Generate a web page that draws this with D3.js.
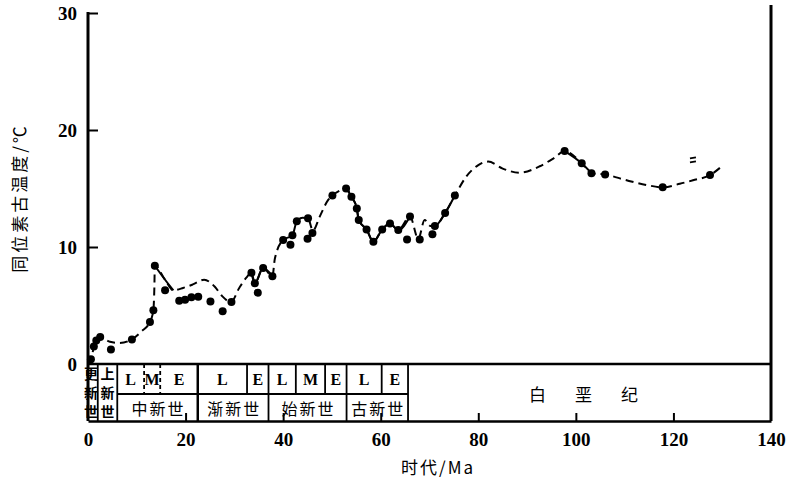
<!DOCTYPE html>
<html>
<head>
<meta charset="utf-8">
<script src="https://cdn.jsdelivr.net/npm/d3@7/dist/d3.min.js"></script>
<style>
  body { margin: 0; background: #fff; }
  svg { display: block; }
  .num { font-family: "Liberation Serif", "DejaVu Serif", serif; font-weight: bold; }
  .cjk { font-family: "Noto Sans CJK SC", sans-serif; }
</style>
</head>
<body>
<svg id="chart" width="791" height="480"></svg>
<script>
// smoothed temperature curve (age Ma, temperature C)
const curveAge = [0, 0.6, 1.3, 2.1, 3.0, 4.5, 6.5, 9.0, 11.0, 12.7, 13.4, 13.6, 13.7, 15.8, 17.5,
  19.5, 21.5, 23.8, 26.0, 27.5, 29.3, 31.0, 32.5, 33.5, 34.2, 35.9, 37.8, 38.3, 40.0, 41.9,
  42.8, 44.0, 45.1, 46.1, 47.5, 49.2, 50.1, 51.5, 52.9, 54.0, 55.1, 55.5, 57.1, 58.5, 60.3,
  61.9, 63.6, 66.0, 67.7, 69.0, 70.2, 71.1, 73.2, 75.2, 77.5, 80.0, 82.0, 85.0, 88.5, 92.6,
  95.5, 97.7, 101.2, 103.2, 106.0, 110.4, 114.5, 117.8, 121.3, 124.0, 127.5, 130.2];
const curveTemp = [0.0, 0.4, 1.6, 2.3, 2.2, 1.9, 1.8, 2.1, 2.8, 3.6, 4.6, 6.5, 8.4, 7.2, 6.3,
  6.5, 6.8, 7.2, 6.6, 5.8, 5.3, 6.5, 7.4, 7.8, 6.9, 8.2, 7.5, 9.0, 10.6, 11.0,
  12.2, 12.5, 12.45, 11.4, 12.6, 14.0, 14.4, 14.8, 15.0, 14.3, 13.3, 12.3, 11.5, 10.45, 11.5,
  12.0, 11.45, 12.6, 10.7, 12.3, 11.8, 11.8, 12.9, 14.4, 16.0, 17.0, 17.3, 16.7, 16.35, 16.9,
  17.6, 18.2, 17.15, 16.3, 16.2, 15.7, 15.3, 15.1, 15.4, 15.7, 16.15, 17.0];
// stretches of the curve drawn solid [from, to] Ma
const solidRuns = [[13.7, 17.5], [33.5, 37.8], [52.9, 66.0], [70.2, 75.2], [97.7, 103.2]];

// measured samples
const dotAge = [0.6, 1.2, 1.7, 2.5, 4.7, 9.0, 12.7, 13.4, 13.7, 15.8, 18.7, 19.9, 21.2, 22.6,
  25.1, 27.6, 29.4, 33.5, 34.2, 34.8, 35.9, 37.8, 40.0, 41.5, 41.9, 42.8, 45.1, 45.0, 46.0,
  50.1, 52.9, 54.0, 55.1, 55.5, 57.1, 58.5, 60.3, 61.9, 63.6, 65.4, 66.0, 68.0, 70.6, 71.1,
  73.2, 75.2, 97.7, 101.2, 103.2, 106.0, 117.8, 127.5];
const dotTemp = [0.4, 1.5, 2.0, 2.3, 1.25, 2.1, 3.6, 4.6, 8.4, 6.3, 5.4, 5.5, 5.7, 5.75,
  5.35, 4.5, 5.3, 7.8, 6.9, 6.1, 8.2, 7.5, 10.6, 10.2, 11.0, 12.2, 12.45, 10.7, 11.2,
  14.4, 15.0, 14.3, 13.3, 12.3, 11.5, 10.45, 11.5, 12.0, 11.45, 10.65, 12.6, 10.65, 11.1, 11.8,
  12.9, 14.4, 18.2, 17.15, 16.3, 16.2, 15.1, 16.15];
const oddMark = [124, 17.4];

// time scale
const epochNames = ["更新世", "上新世", "中新世", "渐新世", "始新世", "古新世", "白垩纪"];
const epochStart = [0, 2, 6, 22.5, 37, 53, 65.6];
const epochEnd = [2, 6, 22.5, 37, 53, 65.6, 140];
const subLabels = ["L", "M", "E", "L", "E", "L", "M", "E", "L", "E"];
const subStart = [6, 11.5, 14.8, 22.5, 32.6, 37, 42.6, 48.6, 53, 60.2];
const subEnd = [11.5, 14.8, 22.5, 32.6, 37, 42.6, 48.6, 53, 60.2, 65.6];

const xTicks = [0, 20, 40, 60, 80, 100, 120, 140];
const yTicks = [0, 10, 20, 30];

const svg = d3.select("#chart");
const x = d3.scaleLinear().domain([0, 140]).range([88, 771]);
const y = d3.scaleLinear().domain([0, 30]).range([364, 13]);
const bandTop = y(0), bandMid = 394, bandBottom = 421;

// frame
svg.append("line").attr("x1", x(0)).attr("x2", x(0)).attr("y1", y(30) - 1).attr("y2", bandBottom)
  .attr("stroke", "#000").attr("stroke-width", 3);
svg.append("line").attr("x1", x(140)).attr("x2", x(140)).attr("y1", 5).attr("y2", bandBottom)
  .attr("stroke", "#000").attr("stroke-width", 3);
svg.append("line").attr("x1", x(0)).attr("x2", x(140)).attr("y1", bandTop).attr("y2", bandTop)
  .attr("stroke", "#000").attr("stroke-width", 2.5);
svg.append("line").attr("x1", x(epochStart[2])).attr("x2", x(epochEnd[5])).attr("y1", bandMid).attr("y2", bandMid)
  .attr("stroke", "#000").attr("stroke-width", 2);

// epoch boundaries (full height)
svg.selectAll(".epb").data(epochEnd.slice(0, 6)).enter().append("line")
  .attr("x1", d => x(d)).attr("x2", d => x(d)).attr("y1", bandTop).attr("y2", bandBottom)
  .attr("stroke", "#000").attr("stroke-width", (d, i) => i == 2 ? 2.5 : 1.8);
// sub-epoch boundaries (upper row)
svg.selectAll(".sub").data(subEnd.filter(d => epochEnd.indexOf(d) < 0)).enter().append("line")
  .attr("x1", d => x(d)).attr("x2", d => x(d)).attr("y1", bandTop).attr("y2", bandMid)
  .attr("stroke", "#000").attr("stroke-width", 1.8)
  .attr("stroke-dasharray", d => d < 20 ? "4,3" : null);

svg.selectAll(".subl").data(subLabels).enter().append("text")
  .attr("class", "num")
  .attr("x", (d, i) => (x(subStart[i]) + x(subEnd[i])) / 2)
  .attr("y", 385)
  .attr("text-anchor", "middle")
  .attr("font-size", 16)
  .text(d => d);

// epoch names
epochNames.forEach(function (name, i) {
  let cx = (x(epochStart[i]) + x(epochEnd[i])) / 2;
  if (i < 2) {
    // narrow columns: vertical characters
    name.split("").forEach(function (ch, j) {
      svg.append("text").attr("class", "cjk")
        .attr("x", i == 0 ? cx - 2 : cx).attr("y", [373, 392, 411][j])
        .attr("text-anchor", "middle").attr("dominant-baseline", "central")
        .attr("font-size", 14).attr("font-weight", "bold").text(ch);
    });
  } else if (i == 6) {
    name.split("").forEach(function (ch, j) {
      svg.append("text").attr("class", "cjk")
        .attr("x", cx - 52 + j * 46).attr("y", 393)
        .attr("text-anchor", "middle").attr("dominant-baseline", "central")
        .attr("font-size", 17).text(ch);
    });
  } else {
    svg.append("text").attr("class", "cjk")
      .attr("x", cx + 1).attr("y", 408)
      .attr("text-anchor", "middle").attr("dominant-baseline", "central")
      .attr("font-size", 16).attr("letter-spacing", 2).text(name);
  }
});

// axes
let xAxis = svg.append("g").attr("transform", "translate(0," + bandBottom + ")")
  .call(d3.axisBottom(x).tickValues(xTicks).tickSizeInner(-8).tickSizeOuter(0).tickPadding(12));
xAxis.select(".domain").attr("stroke-width", 2.5);
xAxis.selectAll(".tick line").attr("stroke-width", 2)
  .attr("opacity", d => (d == 0 || d == 140) ? 0 : 1);
xAxis.selectAll("text").attr("class", "num").attr("font-size", 19).attr("fill", "#000");

let yAxis = svg.append("g").attr("transform", "translate(" + x(0) + ",0)")
  .call(d3.axisLeft(y).tickValues(yTicks).tickSizeInner(-10).tickSizeOuter(0).tickPadding(11));
yAxis.select(".domain").remove();
yAxis.selectAll(".tick line").attr("stroke-width", 2)
  .attr("opacity", d => d == 0 ? 0 : 1);
yAxis.selectAll("text").attr("class", "num").attr("font-size", 19).attr("fill", "#000");

// axis titles
svg.append("text").attr("class", "cjk")
  .attr("transform", "translate(18,198) rotate(-90)")
  .attr("text-anchor", "middle").attr("dominant-baseline", "central")
  .attr("font-size", 17).attr("letter-spacing", 3)
  .text("同位素古温度/℃");
svg.append("text").attr("class", "cjk")
  .attr("x", 438).attr("y", 466)
  .attr("text-anchor", "middle").attr("dominant-baseline", "central")
  .attr("font-size", 17).attr("letter-spacing", 2)
  .text("时代/Ma");

// curve
let pts = curveAge.map((a, i) => [a, curveTemp[i]]);
let line = d3.line().x(d => x(d[0])).y(d => y(d[1])).curve(d3.curveMonotoneX);
svg.append("path").attr("d", line(pts))
  .attr("fill", "none").attr("stroke", "#000").attr("stroke-width", 2)
  .attr("stroke-dasharray", "8,5");
solidRuns.forEach(function (r) {
  svg.append("path").attr("d", line(pts.filter(p => p[0] >= r[0] && p[0] <= r[1])))
    .attr("fill", "none").attr("stroke", "#000").attr("stroke-width", 2);
});

// sample dots
svg.selectAll(".dot").data(dotAge).enter().append("circle")
  .attr("cx", d => x(d)).attr("cy", (d, i) => y(dotTemp[i]))
  .attr("r", 4).attr("fill", "#000");

// small isolated mark
[0, 4].forEach(function (off) {
  svg.append("line")
    .attr("x1", x(oddMark[0]) - 3).attr("x2", x(oddMark[0]) + 3)
    .attr("y1", y(oddMark[1]) - 2 + off).attr("y2", y(oddMark[1]) - 3 + off)
    .attr("stroke", "#000").attr("stroke-width", 1.8);
});
</script>
</body>
</html>
